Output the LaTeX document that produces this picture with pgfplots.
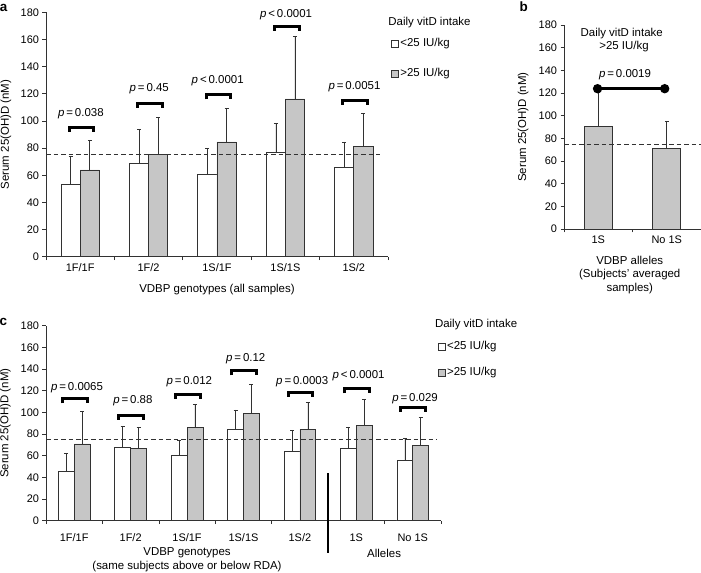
\documentclass[border=0pt]{standalone}
\usepackage{fontspec}
\setmainfont{Liberation Sans}
\usepackage{pgfplots}
\pgfplotsset{compat=1.18}
\definecolor{barg}{RGB}{198,198,198}
\definecolor{edge}{RGB}{50,50,50}
\newcommand{\lab}{\fontsize{11.5}{13.8}\selectfont}
\newcommand{\tk}{\fontsize{11}{13}\selectfont}
\pgfplotsset{
  panel/.style={
    scale only axis, clip=false,
    axis x line*=bottom, axis y line*=left,
    axis line style={edge, line width=0.7bp},
    enlargelimits=false,
    ymin=0, ymax=180, ytick={0,20,...,180},
    tick align=outside, major tick length=3.5bp,
    every tick/.style={edge, line width=0.7bp},
    ticklabel style={font=\tk},
    /pgf/number format/assume math mode=true,
    label style={font=\lab},
    ylabel={Serum 25(OH)D (nM)},
    legend cell align=left,
  },
  errs/.style={
    /pgfplots/error bars/y dir=plus, /pgfplots/error bars/y explicit,
    /pgfplots/error bars/error bar style={edge, line width=0.6bp},
    /pgfplots/error bars/error mark options={edge, line width=0.6bp, mark size=2bp, rotate=90}},
  wbar/.style={ybar, bar shift=0bp, draw=edge, fill=white, line width=0.7bp, errs},
  gbar/.style={ybar, bar shift=0bp, draw=edge, fill=barg, line width=0.7bp, errs},
  brk/.style={black, line width=3bp, line join=miter, forget plot},
  dsh/.style={edge, line width=0.8bp, dash pattern=on 4.5bp off 3bp, forget plot},
}
\begin{document}
\begin{tikzpicture}
\useasboundingbox (0,0) rectangle (701bp,573bp);
% ---------------- panel a ----------------
\begin{axis}[panel, at={(46bp,316.3bp)}, anchor=south west,
  width=342bp, height=244.4bp, xmin=0, xmax=5,
  xtick={0,...,5}, x tick label as interval,
  xticklabels={1F/1F,1F/2,1S/1F,1S/1S,1S/2},
  xlabel={VDBP genotypes (all samples)},
  xlabel style={at={(axis description cs:0.5,-0.134)}, anchor=center},
  ylabel style={at={(axis description cs:-0.117,0.5)}, anchor=center},
  legend style={draw=none, fill=none, at={(axis description cs:1.008,0.81)}, anchor=west,
    font=\lab, inner sep=0pt, row sep=19bp,
    nodes={inner sep=0pt, inner xsep=1.5bp, text height=8.2bp, text depth=2.3bp}},
]
\addlegendimage{legend image code/.code={\draw[draw=edge, fill=white, line width=0.7bp] (0bp,-3.6bp) rectangle (7.3bp,3.6bp);}}
\addlegendentry{<25 IU/kg}
\addlegendimage{legend image code/.code={\draw[draw=edge, fill=barg, line width=0.7bp] (0bp,-3.6bp) rectangle (7.3bp,3.6bp);}}
\addlegendentry{>25 IU/kg}
\addplot[wbar, bar width=19.2bp, forget plot] coordinates {
  (0.36,53.3) +- (0,20.9)
  (1.36,68.8) +- (0,25.2)
  (2.36,60.9) +- (0,18.9)
  (3.36,77.1) +- (0,21.1)
  (4.36,65.8) +- (0,18.7)};
\addplot[gbar, bar width=19.2bp, forget plot] coordinates {
  (0.64,63.9) +- (0,21.8)
  (1.64,75.6) +- (0,27.1)
  (2.64,84.5) +- (0,24.8)
  (3.64,116.2) +- (0,45.8)
  (4.64,81.5) +- (0,23.9)};
\addplot[dsh] coordinates {(0,75) (4.88,75)};
\addplot[brk] coordinates {(0.34,92.1) (0.34,95.4) (0.70,95.4) (0.70,92.1)};
\addplot[brk] coordinates {(1.34,109.6) (1.34,112.9) (1.70,112.9) (1.70,109.6)};
\addplot[brk] coordinates {(2.34,115.9) (2.34,119.2) (2.70,119.2) (2.70,115.9)};
\addplot[brk] coordinates {(3.34,166.3) (3.34,169.6) (3.70,169.6) (3.70,166.3)};
\addplot[brk] coordinates {(4.34,112.0) (4.34,115.3) (4.70,115.3) (4.70,112.0)};
\node[font=\lab] at (axis cs:0.51,105.6) {\textit{p}\,=\,0.038};
\node[font=\lab] at (axis cs:1.51,123.5) {\textit{p}\,=\,0.45};
\node[font=\lab] at (axis cs:2.51,129.4) {\textit{p}\,<\,0.0001};
\node[font=\lab] at (axis cs:3.51,178) {\textit{p}\,<\,0.0001};
\node[font=\lab] at (axis cs:4.51,125) {\textit{p}\,=\,0.0051};
\node[font=\lab, anchor=west] at (axis description cs:0.991,0.957) {Daily vitD intake};
\end{axis}
% ---------------- panel b ----------------
\begin{axis}[panel, at={(564bp,344bp)}, anchor=south west,
  width=137bp, height=204bp, xmin=0, xmax=2,
  xtick={0,1,2}, x tick label as interval,
  xticklabels={1S,No 1S},
  xlabel={VDBP alleles\\(Subjects' averaged\\samples)},
  xlabel style={at={(axis description cs:0.48,-0.225)}, anchor=center, align=center},
  ylabel style={at={(axis description cs:-0.299,0.5)}, anchor=center},
]
\addplot[gbar, bar width=28bp] coordinates {
  (0.5,90.6) +- (0,30.4)
  (1.5,71.2) +- (0,23.5)};
\addplot[dsh] coordinates {(0,75) (2,75)};
\addplot[black, line width=2.8bp, mark=*, mark size=3.2bp, forget plot] coordinates {(0.49,123.8) (1.47,123.8)};
\node[font=\lab] at (axis cs:0.842,172.7) {Daily vitD intake};
\node[font=\lab] at (axis cs:0.876,161.4) {>25 IU/kg};
\node[font=\lab] at (axis cs:0.891,136) {\textit{p}\,=\,0.0019};
\end{axis}
% ---------------- panel c ----------------
\begin{axis}[panel, at={(46bp,52.3bp)}, anchor=south west,
  width=395bp, height=195bp, xmin=0, xmax=7,
  xtick={0,...,7}, x tick label as interval,
  xticklabels={1F/1F,1F/2,1S/1F,1S/1S,1S/2,1S,No 1S},
  xticklabel style={yshift=-6bp},
  xlabel={VDBP genotypes\\(same subjects above or below RDA)},
  xlabel style={at={(axis description cs:0.357,-0.2015)}, anchor=center, align=center},
  ylabel style={at={(axis description cs:-0.103,0.5)}, anchor=center},
  legend style={draw=none, fill=none, at={(axis description cs:0.991,0.826)}, anchor=west,
    font=\lab, inner sep=0pt, row sep=15.5bp,
    nodes={inner sep=0pt, inner xsep=1.5bp, text height=8.2bp, text depth=2.3bp}},
]
\addlegendimage{legend image code/.code={\draw[draw=edge, fill=white, line width=0.7bp] (0bp,-3.6bp) rectangle (7.3bp,3.6bp);}}
\addlegendentry{<25 IU/kg}
\addlegendimage{legend image code/.code={\draw[draw=edge, fill=barg, line width=0.7bp] (0bp,-3.6bp) rectangle (7.3bp,3.6bp);}}
\addlegendentry{>25 IU/kg}
\addplot[wbar, bar width=15.8bp, forget plot] coordinates {
  (0.36,45.8) +- (0,16.4)
  (1.36,68.0) +- (0,19.0)
  (2.36,60.3) +- (0,14.2)
  (3.36,84.3) +- (0,17.9)
  (4.36,63.7) +- (0,19.7)
  (5.36,67.0) +- (0,19.5)
  (6.36,56.0) +- (0,20.4)};
\addplot[gbar, bar width=15.8bp, forget plot] coordinates {
  (0.64,70.8) +- (0,30.1)
  (1.64,67.0) +- (0,19.2)
  (2.64,86.2) +- (0,21.2)
  (3.64,99.4) +- (0,26.4)
  (4.64,84.3) +- (0,24.6)
  (5.64,88.0) +- (0,24.3)
  (6.64,69.6) +- (0,25.9)};
\addplot[dsh] coordinates {(0,75) (6.93,75)};
\addplot[brk] coordinates {(0.29,108.3) (0.29,112.4) (0.73,112.4) (0.73,108.3)};
\addplot[brk] coordinates {(1.29,93.3) (1.29,97.4) (1.73,97.4) (1.73,93.3)};
\addplot[brk] coordinates {(2.29,112.7) (2.29,116.8) (2.73,116.8) (2.73,112.7)};
\addplot[brk] coordinates {(3.29,134.2) (3.29,138.3) (3.73,138.3) (3.73,134.2)};
\addplot[brk] coordinates {(4.29,114.5) (4.29,118.6) (4.73,118.6) (4.73,114.5)};
\addplot[brk] coordinates {(5.29,117.5) (5.29,121.6) (5.73,121.6) (5.73,117.5)};
\addplot[brk] coordinates {(6.29,100.4) (6.29,104.5) (6.73,104.5) (6.73,100.4)};
\addplot[black, line width=2.2bp, forget plot] coordinates {(5,44) (5,-30)};
\node[font=\lab] at (axis cs:0.55,123) {\textit{p}\,=\,0.0065};
\node[font=\lab] at (axis cs:1.54,110.5) {\textit{p}\,=\,0.88};
\node[font=\lab] at (axis cs:2.54,128.3) {\textit{p}\,=\,0.012};
\node[font=\lab] at (axis cs:3.54,149.8) {\textit{p}\,=\,0.12};
\node[font=\lab] at (axis cs:4.54,128.3) {\textit{p}\,=\,0.0003};
\node[font=\lab] at (axis cs:5.54,134.2) {\textit{p}\,<\,0.0001};
\node[font=\lab] at (axis cs:6.54,112.4) {\textit{p}\,=\,0.029};
\node[font=\lab] at (axis description cs:0.856,-0.166) {Alleles};
\node[font=\lab, anchor=west] at (axis description cs:0.976,1.004) {Daily vitD intake};
\end{axis}
% panel letters
\node[font=\fontsize{13.5}{15}\selectfont\bfseries] at (3.7bp,564.7bp) {a};
\node[font=\fontsize{13.5}{15}\selectfont\bfseries] at (523.7bp,566.3bp) {b};
\node[font=\fontsize{13.5}{15}\selectfont\bfseries] at (3.3bp,251.3bp) {c};
\end{tikzpicture}
\end{document}
